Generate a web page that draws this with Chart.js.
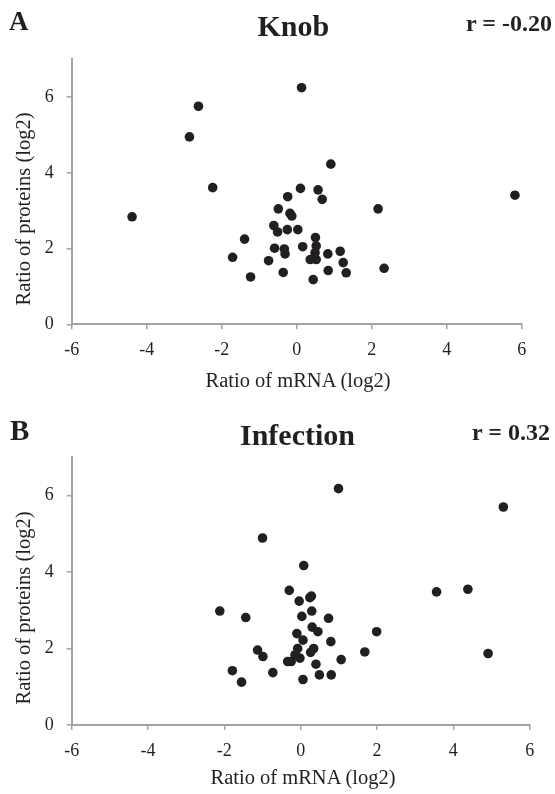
<!DOCTYPE html>
<html>
<head>
<meta charset="utf-8">
<script src="https://cdn.jsdelivr.net/npm/chart.js@4/dist/chart.umd.min.js"></script>
<style>
  html, body { margin:0; padding:0; background:#fff; }
  #wrap { position:relative; width:555px; height:794px; overflow:hidden; font-family:"Liberation Serif","Times New Roman",serif; color:#231f20; }
  canvas { position:absolute; left:0; }
  .t { position:absolute; white-space:nowrap; line-height:1; font-weight:bold; }
  .ax { position:absolute; white-space:nowrap; line-height:1.2; font-size:20.5px; transform:translate(-50%,-50%); }
  .ay { position:absolute; white-space:nowrap; line-height:1.2; font-size:20.5px; transform:translate(-50%,-50%) rotate(-90deg); }
</style>
</head>
<body>
<div id="wrap">
  <canvas id="c1" width="555" height="397" style="top:0"></canvas>
  <canvas id="c2" width="555" height="397" style="top:397px"></canvas>

  <div class="t" style="left:9px; top:8px; font-size:27px;">A</div>
  <div class="t" style="left:257.5px; top:11px; font-size:30px;">Knob</div>
  <div class="t" style="left:466px; top:10.6px; font-size:24px;">r = -0.20</div>
  <div class="ax" style="left:298px; top:380px;">Ratio of mRNA (log2)</div>
  <div class="ay" style="left:23px; top:209px;">Ratio of proteins (log2)</div>

  <div class="t" style="left:10px; top:415.7px; font-size:29px;">B</div>
  <div class="t" style="left:240px; top:420px; font-size:30px;">Infection</div>
  <div class="t" style="left:472px; top:420px; font-size:24px;">r = 0.32</div>
  <div class="ax" style="left:303px; top:777px;">Ratio of mRNA (log2)</div>
  <div class="ay" style="left:23px; top:608px;">Ratio of proteins (log2)</div>
</div>
<script>
// Panel A: Knob
const knobMRNA = [0.13,-2.62,-2.86,0.91,-2.24,0.10,0.57,-0.24,0.68,2.17,-0.49,-0.18,-0.13,-0.61,-0.51,-0.25,0.03,-1.39,0.50,0.52,0.16,-0.59,-0.33,-0.31,0.49,0.83,1.16,-1.71,-0.75,0.36,0.52,1.24,-0.36,0.84,1.32,-1.23,0.44,2.33,-4.39,5.82];
const knobProtein = [6.25,5.76,4.95,4.23,3.61,3.59,3.55,3.37,3.30,3.05,3.05,2.93,2.86,2.61,2.44,2.50,2.50,2.25,2.29,2.07,2.05,2.01,1.99,1.86,1.89,1.86,1.93,1.77,1.68,1.71,1.71,1.63,1.37,1.42,1.36,1.25,1.18,1.48,2.84,3.41];

// Panel B: Infection
const infMRNA = [-1.00,0.08,-0.30,-0.04,0.24,0.28,-2.12,-1.44,0.29,0.03,0.73,1.99,0.30,0.45,-0.10,0.06,0.79,-1.13,-0.99,-0.08,0.34,0.26,-0.15,-0.02,-0.34,-0.25,0.40,1.06,1.68,-1.79,-0.73,0.49,0.80,-1.55,0.06,0.99,5.31,3.56,4.38,4.91];
const infProtein = [4.89,4.17,3.52,3.24,3.33,3.37,2.98,2.81,2.98,2.84,2.79,2.44,2.56,2.44,2.39,2.22,2.18,1.96,1.79,2.00,2.00,1.90,1.83,1.75,1.66,1.66,1.59,1.71,1.91,1.42,1.37,1.31,1.31,1.12,1.19,6.18,5.70,3.48,3.55,1.87];

const xTicks = [-6,-4,-2,0,2,4,6];
const yTicks = [0,2,4,6];

function pts(xs, ys) { return xs.map((x, i) => ({ x: x, y: ys[i] })); }

function makeChart(id, xs, ys, pad) {
  const axisColor = '#a3a3a3';
  const tickFont = { family: '"Liberation Serif","Times New Roman",serif', size: 18 };
  new Chart(document.getElementById(id), {
    type: 'scatter',
    data: { datasets: [{
      data: pts(xs, ys),
      backgroundColor: '#231f20',
      borderWidth: 0,
      pointRadius: 4.8,
      pointHoverRadius: 4.8
    }]},
    options: {
      responsive: false,
      animation: false,
      devicePixelRatio: 1,
      events: [],
      layout: { padding: pad },
      plugins: { legend: { display: false }, tooltip: { enabled: false } },
      scales: {
        x: {
          type: 'linear', min: -6, max: 6,
          afterBuildTicks: s => { s.ticks = xTicks.map(v => ({ value: v })); },
          afterFit: s => { s.height = 60; },
          ticks: { color: '#231f20', font: tickFont, padding: 10, maxRotation: 0 },
          grid: { display: true, drawOnChartArea: false, drawTicks: true, tickLength: 5, color: axisColor, lineWidth: 1.5 },
          border: { display: true, color: axisColor, width: 2 }
        },
        y: {
          type: 'linear', min: 0, max: 7,
          afterBuildTicks: s => { s.ticks = yTicks.map(v => ({ value: v })); },
          afterFit: s => { s.width = 71.7; },
          ticks: { color: '#231f20', font: tickFont, padding: 13 },
          grid: { display: true, drawOnChartArea: false, drawTicks: true, tickLength: 5, color: axisColor, lineWidth: 1.5 },
          border: { display: true, color: axisColor, width: 2 }
        }
      }
    }
  });
}

makeChart('c1', knobMRNA, knobProtein, { left: 0, top: 59.3, right: 33.3, bottom: 12.7 });
makeChart('c2', infMRNA, infProtein, { left: 0, top: 60.3, right: 25.3, bottom: 9 });
</script>
</body>
</html>
